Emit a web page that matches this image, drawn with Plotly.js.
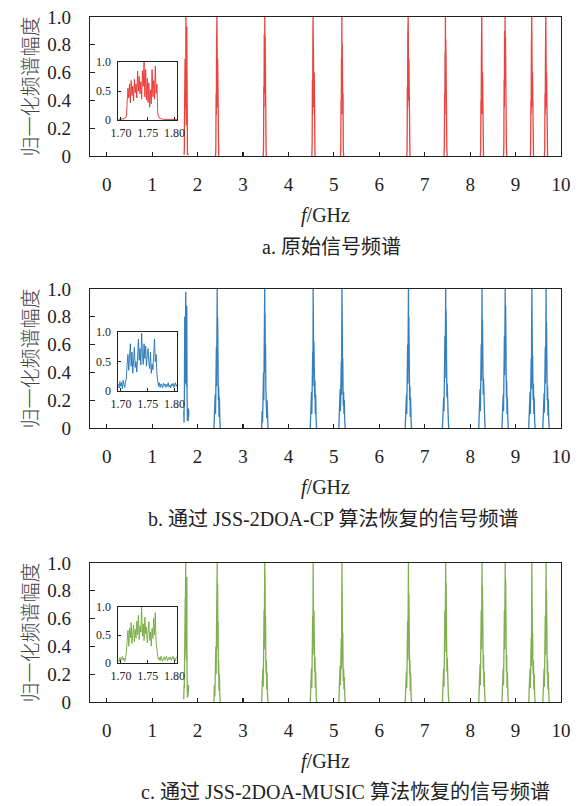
<!DOCTYPE html>
<html>
<head>
<meta charset="utf-8">
<script src="https://cdn.plot.ly/plotly-3.0.1.min.js"></script>
<style>html,body{margin:0;padding:0;background:#fff;}#chart{width:583px;height:806px;}</style>
</head>
<body>
<div id="chart"></div>
<script>
// ---------- DATA ----------
const freqTickVals = [0,1,2,3,4,5,6,7,8,9,10];
const ampTickVals = [0,0.2,0.4,0.6,0.8,1.0];
const ampTickText = ['0','0.2','0.4','0.6','0.8','1.0'];
const insetTickVals = [1.70,1.75,1.80];
const insetTickText = ['1.70','1.75','1.80'];
const insetAmpVals = [0,0.5,1.0];
const insetAmpText = ['0','0.5','1.0'];

// zoomed band around 1.74 GHz (inset), frequency in GHz
const insetFreq = [
 1.695,1.6965,1.698,1.6995,1.701,1.7025,1.704,1.7055,1.707,1.7085,1.710,
 1.7115,1.713,1.7145,1.716,1.7175,1.719,1.7205,1.722,1.7235,1.725,1.7265,1.728,1.7295,1.731,1.7325,1.734,1.7355,1.737,1.7385,1.740,
 1.7415,1.743,1.7445,1.746,1.7475,1.749,1.7505,1.752,1.7535,1.755,1.7565,1.758,1.7595,1.761,1.7625,1.764,1.7655,1.767,1.7685,
 1.770,1.7715,1.773,1.7745,1.776,1.7775,1.779,1.7805,1.782,1.7835,1.785,1.7865,1.788,1.7895,1.791,1.7925,1.794,1.7955,1.797,1.7985,1.800,1.8015,1.803,1.805];
const insetOriginal = [
 0.01,0.01,0.01,0.01,0.01,0.012,0.015,0.02,0.03,0.035,0.06,
 0.25,0.55,0.38,0.62,0.30,0.68,0.42,0.58,0.33,0.70,0.47,0.62,0.38,0.84,0.50,0.75,0.45,0.66,0.36,0.85,
 0.58,1.00,0.40,0.87,0.35,0.72,0.30,0.64,0.22,0.52,0.28,0.87,0.40,0.68,0.36,0.93,0.46,0.62,0.12,
 0.05,0.03,0.025,0.02,0.02,0.015,0.012,0.01,0.01,0.01,0.01,0.01,0.01,0.01,0.01,0.01,0.01,0.01,0.01,0.01,0.01,0.01,0.01,0.01];
const insetCP = [
 0.12,0.05,0.16,0.08,0.14,0.04,0.18,0.10,0.06,0.15,0.22,
 0.45,0.62,0.35,0.58,0.80,0.42,0.66,0.30,0.55,0.74,0.40,0.50,0.32,0.70,0.88,0.52,0.72,0.44,0.98,0.62,
 0.45,0.80,0.55,0.76,0.42,0.60,0.72,0.48,0.38,0.66,0.30,0.45,0.36,0.62,0.88,0.50,0.62,0.28,0.16,
 0.08,0.14,0.06,0.12,0.10,0.05,0.13,0.09,0.12,0.06,0.11,0.08,0.14,0.07,0.10,0.05,0.12,0.09,0.13,0.06,0.10,0.14,0.08,0.12];
const insetMUSIC = [
 0.06,0.02,0.10,0.04,0.08,0.12,0.05,0.09,0.03,0.10,0.18,
 0.40,0.58,0.30,0.62,0.45,0.72,0.35,0.55,0.68,0.38,0.60,0.45,0.75,0.50,0.85,0.42,0.66,0.55,1.00,0.48,
 0.70,0.40,0.82,0.52,0.64,0.36,0.58,0.74,0.40,0.55,0.30,0.62,0.44,0.80,0.50,0.90,0.38,0.22,0.12,
 0.06,0.10,0.04,0.12,0.07,0.03,0.09,0.11,0.05,0.08,0.12,0.04,0.07,0.10,0.06,0.11,0.05,0.08,0.12,0.06,0.09,0.04,0.10,0.12];

// other sub-band centre frequencies (GHz)
const bandCenters = [2.43,3.48,4.55,5.18,6.64,7.46,8.26,8.77,9.36,9.67];

// original spectrum: sample offsets (GHz) and amplitudes of each band
const origOffsets = [-0.035,-0.028,-0.022,-0.017,-0.012,-0.008,-0.004,0,0.004,0.008,0.012,0.017,0.022,0.028,0.035];
const origBands = [
 [0,0.05,0.45,0.30,0.77,0.40,1.00,0.50,0.76,0.35,0.70,0.30,0.50,0.05,0],
 [0,0.06,0.50,0.35,0.88,0.45,0.80,1.00,0.60,0.86,0.40,0.65,0.35,0.04,0],
 [0,0.08,0.55,0.30,0.80,1.00,0.50,0.89,0.45,0.75,0.35,0.60,0.30,0.06,0],
 [0,0.05,0.40,0.30,0.70,0.40,1.00,0.45,0.81,0.40,0.65,0.30,0.45,0.04,0],
 [0,0.05,0.50,0.35,0.87,0.45,1.00,0.50,0.80,0.40,0.70,0.35,0.55,0.05,0],
 [0,0.06,0.45,0.30,0.75,0.45,1.00,0.50,0.84,0.40,0.70,0.30,0.50,0.05,0],
 [0,0.05,0.40,0.30,0.72,0.35,1.00,0.45,0.70,0.30,0.60,0.30,0.45,0.05,0],
 [0,0.07,0.55,0.35,0.90,0.50,0.93,1.00,0.60,0.85,0.40,0.70,0.35,0.06,0],
 [0,0.05,0.40,0.30,0.75,0.40,1.00,0.45,0.72,0.35,0.60,0.30,0.45,0.04,0],
 [0,0.06,0.45,0.30,0.72,0.40,1.00,0.50,0.70,0.35,0.60,0.30,0.50,0.05,0]];

// recovered spectra: sample offsets (GHz) and amplitudes of each band
const recOffsets = [-0.07,-0.06,-0.05,-0.042,-0.035,-0.028,-0.022,-0.016,-0.011,-0.006,-0.002,0.002,0.006,0.011,0.016,0.022,0.028,0.035,0.042,0.05,0.06,0.07];
const cpBands = [
 [0,0.14,0.05,0.24,0.10,0.36,0.18,0.58,0.30,0.84,0.50,1.00,0.45,0.80,0.35,0.56,0.20,0.30,0.08,0.22,0.06,0],
 [0,0.12,0.04,0.22,0.12,0.40,0.20,0.62,0.34,0.84,1.00,0.55,0.82,0.40,0.60,0.30,0.18,0.28,0.07,0.20,0.05,0],
 [0,0.15,0.06,0.26,0.10,0.34,0.16,0.55,0.30,1.00,0.55,0.80,0.40,0.62,0.30,0.48,0.22,0.34,0.10,0.24,0.06,0],
 [0,0.18,0.06,0.28,0.12,0.30,0.14,0.48,0.24,0.73,1.00,0.45,0.70,0.30,0.50,0.28,0.16,0.26,0.10,0.20,0.05,0],
 [0,0.13,0.05,0.24,0.10,0.38,0.18,0.60,0.32,0.84,0.52,1.00,0.46,0.80,0.36,0.56,0.20,0.30,0.08,0.22,0.06,0],
 [0,0.12,0.05,0.22,0.12,0.40,0.22,0.66,0.36,0.90,0.55,1.00,0.50,0.85,0.38,0.58,0.22,0.32,0.10,0.20,0.05,0],
 [0,0.16,0.06,0.28,0.12,0.40,0.20,0.60,0.34,0.83,0.50,1.00,0.44,0.78,0.36,0.55,0.24,0.36,0.12,0.24,0.06,0],
 [0,0.14,0.05,0.24,0.12,0.42,0.22,0.66,0.38,0.92,0.58,1.00,0.52,0.88,0.40,0.60,0.22,0.34,0.10,0.22,0.06,0],
 [0,0.12,0.05,0.26,0.10,0.32,0.16,0.50,0.28,0.72,1.00,0.44,0.70,0.33,0.52,0.28,0.20,0.32,0.10,0.22,0.05,0],
 [0,0.14,0.06,0.25,0.11,0.38,0.18,0.58,0.32,0.80,0.52,1.00,0.46,0.76,0.35,0.52,0.20,0.30,0.09,0.21,0.06,0]];
const musicBands = [
 [0,0.12,0.04,0.22,0.10,0.40,0.20,0.64,0.36,0.90,0.55,1.00,0.50,0.85,0.38,0.58,0.20,0.30,0.08,0.20,0.05,0],
 [0,0.13,0.05,0.24,0.11,0.42,0.22,0.66,0.38,0.91,1.00,0.60,0.86,0.42,0.62,0.30,0.20,0.30,0.09,0.21,0.05,0],
 [0,0.14,0.05,0.24,0.10,0.38,0.20,0.62,0.34,1.00,0.55,0.86,0.42,0.66,0.32,0.50,0.22,0.32,0.10,0.22,0.06,0],
 [0,0.16,0.06,0.26,0.12,0.30,0.14,0.46,0.24,0.71,1.00,0.45,0.68,0.30,0.50,0.28,0.15,0.24,0.09,0.18,0.05,0],
 [0,0.13,0.05,0.22,0.10,0.36,0.18,0.58,0.30,0.82,0.50,1.00,0.45,0.78,0.36,0.54,0.20,0.30,0.08,0.21,0.05,0],
 [0,0.13,0.05,0.24,0.11,0.42,0.22,0.66,0.36,0.91,0.56,1.00,0.50,0.86,0.38,0.58,0.22,0.32,0.10,0.20,0.05,0],
 [0,0.15,0.06,0.27,0.12,0.42,0.22,0.66,0.38,0.91,0.56,1.00,0.48,0.84,0.38,0.56,0.24,0.34,0.11,0.22,0.06,0],
 [0,0.14,0.05,0.24,0.12,0.42,0.22,0.66,0.38,0.91,0.58,1.00,0.52,0.88,0.40,0.60,0.22,0.34,0.10,0.22,0.06,0],
 [0,0.12,0.05,0.24,0.10,0.30,0.15,0.46,0.26,0.66,1.00,0.42,0.64,0.32,0.50,0.26,0.20,0.30,0.09,0.20,0.05,0],
 [0,0.14,0.05,0.24,0.11,0.38,0.20,0.62,0.34,0.86,0.54,1.00,0.48,0.80,0.36,0.54,0.20,0.30,0.09,0.21,0.06,0]];

const yTitle = '归一化频谱幅度';
const xTitle = '<i>f</i>/GHz';
const captions = ['a. 原始信号频谱','b. 通过 JSS-2DOA-CP 算法恢复的信号频谱','c. 通过 JSS-2DOA-MUSIC 算法恢复的信号频谱'];
const colors = ['#e8302a','#1f72b8','#72a83c'];

// ---------- BUILD ----------
function buildSeries(insetVals, offsets, bands){
  const xs = insetFreq.slice(), ys = insetVals.slice();
  bandCenters.forEach((c,i)=>{
    xs.push(null); ys.push(null);   // separate bands
    offsets.forEach((o,j)=>{ xs.push(+(c+o).toFixed(4)); ys.push(bands[i][j]); });
  });
  return {xs, ys};
}
const series = [
  buildSeries(insetOriginal, origOffsets, origBands),
  buildSeries(insetCP, recOffsets, cpBands),
  buildSeries(insetMUSIC, recOffsets, musicBands)
];
const insets = [insetOriginal, insetCP, insetMUSIC];

const H = 806;
const frames = [[17,156],[289,428],[563,702]];
const insetFrames = [[62,120],[332,391],[607,663]];
const xDom = [90/583, 561/583];
const insetXDom = [118.3/583, 177.3/583];
const capY = [247, 519, 792];
const capX = [331/583, 333/583, 345/583];

const serif = 'Liberation Serif, Times New Roman, Tinos, serif';
const cjk = 'Noto Sans CJK SC, sans-serif';
const mixed = 'Liberation Serif, Tinos, Noto Sans CJK SC, serif';

const data = [];
const layout = {
  width:583, height:806,
  margin:{l:0,r:0,t:0,b:0},
  paper_bgcolor:'#fff', plot_bgcolor:'#fff',
  font:{family:serif, color:'#222'},
  showlegend:false,
  annotations:[]
};

for(let p=0;p<3;p++){
  const xa = 'xaxis'+(p===0?'':(p+1)), ya = 'yaxis'+(p===0?'':(p+1));
  const xr = 'x'+(p===0?'':(p+1)), yr = 'y'+(p===0?'':(p+1));
  const ixa = 'xaxis'+(p+4), iya = 'yaxis'+(p+4);
  const ixr = 'x'+(p+4), iyr = 'y'+(p+4);

  data.push({type:'scatter', mode:'lines', x:series[p].xs, y:series[p].ys, xaxis:xr, yaxis:yr,
    connectgaps:false, line:{color:colors[p], width:1.3}, opacity:0.9, hoverinfo:'skip'});
  data.push({type:'scatter', mode:'lines', x:insetFreq, y:insets[p], xaxis:ixr, yaxis:iyr,
    line:{color:colors[p], width:0.9}, hoverinfo:'skip'});

  const fr = frames[p];
  layout[xa] = {domain:xDom, anchor:yr, range:[-0.368,10], tickvals:freqTickVals,
    ticks:'inside', ticklen:4, tickwidth:1.2, tickcolor:'#222',
    showline:true, mirror:true, linecolor:'#222', linewidth:1.3,
    showgrid:false, zeroline:false, ticklabelstandoff:11,
    tickfont:{family:serif, size:19, color:'#222'},
    title:{text:xTitle, font:{family:serif, size:20, color:'#222'}, standoff:14}};
  layout[ya] = {domain:[1-fr[1]/H, 1-fr[0]/H], anchor:xr, range:[0,1], tickvals:ampTickVals, ticktext:ampTickText,
    ticks:'inside', ticklen:5, tickwidth:1.2, tickcolor:'#222',
    showline:true, mirror:true, linecolor:'#222', linewidth:1.3,
    showgrid:false, zeroline:false, ticklabelstandoff:14,
    tickfont:{family:serif, size:19, color:'#222'},
    title:{text:yTitle, font:{family:cjk, size:20, color:'#444', weight:300}, standoff:3}};

  const ifr = insetFrames[p];
  layout[ixa] = {domain:insetXDom, anchor:iyr, range:[1.695,1.805], tickvals:insetTickVals, ticktext:insetTickText,
    ticks:'inside', ticklen:3, tickcolor:'#222', showline:true, mirror:true, linecolor:'#222', linewidth:1,
    showgrid:false, zeroline:false, ticklabelstandoff:2,
    tickfont:{family:serif, size:12, color:'#222'}};
  layout[iya] = {domain:[1-ifr[1]/H, 1-ifr[0]/H], anchor:ixr, range:[0,1], tickvals:insetAmpVals, ticktext:insetAmpText,
    ticks:'inside', ticklen:3, tickcolor:'#222', showline:true, mirror:true, linecolor:'#222', linewidth:1,
    showgrid:false, zeroline:false, ticklabelstandoff:4,
    tickfont:{family:serif, size:12, color:'#222'}};

  layout.annotations.push({xref:'paper', yref:'paper', x:capX[p], y:1-capY[p]/H, xanchor:'center', yanchor:'middle',
    showarrow:false, text:captions[p], font:{family:mixed, size:20, color:'#222'}});
}

Plotly.newPlot('chart', data, layout, {staticPlot:true, displayModeBar:false});
</script>
</body>
</html>
